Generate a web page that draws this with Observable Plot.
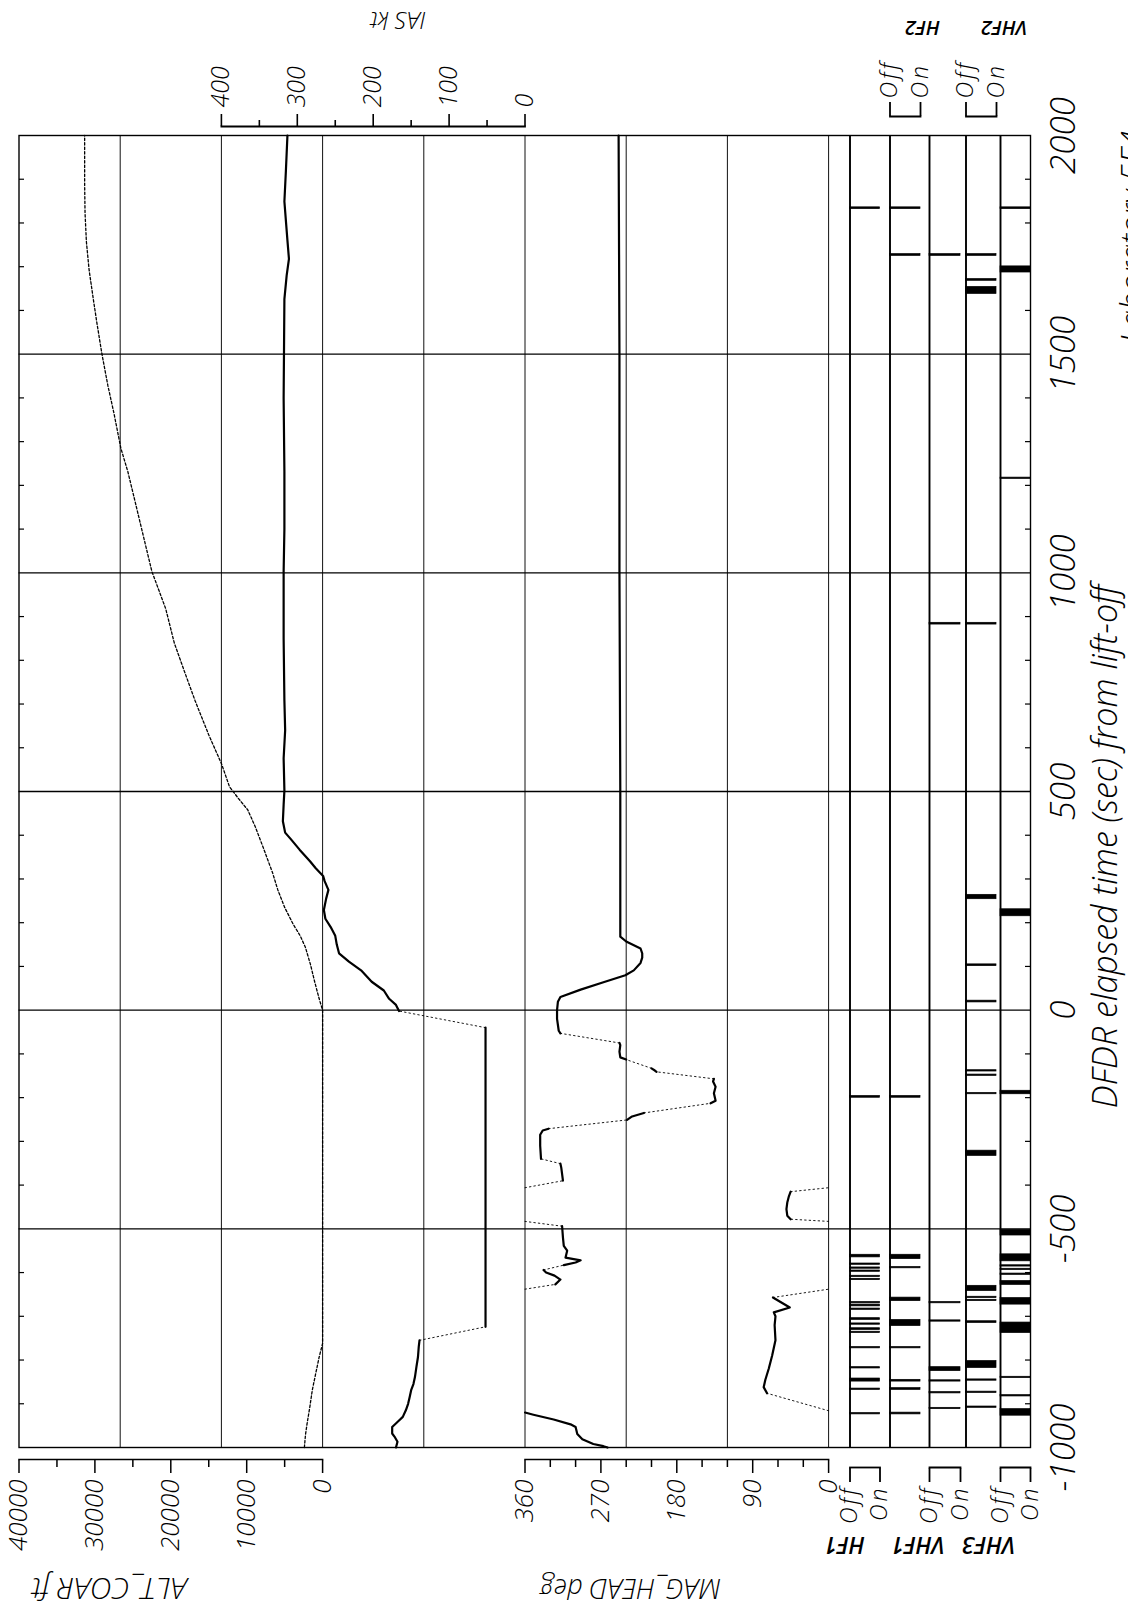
<!DOCTYPE html>
<html><head><meta charset="utf-8">
<script src="https://cdn.jsdelivr.net/npm/d3@7"></script>
<script src="https://cdn.jsdelivr.net/npm/@observablehq/plot@0.6"></script>
<style>
html,body{margin:0;padding:0;background:#fff;width:1128px;height:1611px;overflow:hidden}
#page{position:absolute;left:0;top:0;width:1611px;height:1128px;transform-origin:0 0;transform:translateY(1611px) rotate(-90deg);}
#page svg{position:absolute;left:0;background:transparent !important;}
</style></head><body><div id="page"></div>
<script>
// ---------------- data ----------------
const timeDomain = [-1000, 2000];
const timeTicks = [-1000, -500, 0, 500, 1000, 1500, 2000];
const timeGrid = [-500, 0, 500, 1000, 1500];
const minorTimeTicks = [-900,-800,-700,-600,-400,-300,-200,-100,100,200,300,400,600,700,800,900,1100,1200,1300,1400,1600,1700,1800,1900];
const gridRows = [1, 2, 3, 4, 5, 6, 7, 8];

const altTicks = [0, 10000, 20000, 30000, 40000];
const altMinor = [5000, 15000, 25000, 35000];
const iasTicks = [0, 100, 200, 300, 400];
const iasMinor = [50, 150, 250, 350];
const magTicks = [0, 90, 180, 270, 360];
const magMinor = [30, 60, 120, 150, 210, 240, 300, 330];

// ALT_COAR ft (time s, ft)
const altSeries = [[-1000,2400],[-970,2250],[-945,2040],[-907,1680],[-869,1360],[-831,910],[-793,450],[-762,0],[0,0],[26,450],[65,1045],[104,1590],[144,2270],[170,2950],[196,3860],[235,5000],[275,5900],[314,6590],[367,7720],[419,8860],[458,9860],[485,11130],[511,12270],[563,13310],[629,14990],[708,16810],[773,18170],[839,19530],[918,20670],[1003,22490],[1101,23850],[1167,24760],[1232,25670],[1285,26580],[1364,27480],[1429,28300],[1501,29080],[1574,29760],[1626,30210],[1692,30760],[1757,31120],[1823,31300],[1888,31350],[2000,31350]];

// IAS kt, solid runs (dotted joins between consecutive runs)
const iasRuns = [
  [[-1000,170],[-987,168],[-975,172],[-968,175],[-953,175],[-940,167],[-930,161],[-915,157],[-900,154],[-885,152],[-869,150],[-855,147],[-839,145],[-815,143],[-793,141],[-770,140],[-755,139]],
  [[-724,52],[-40,52]],
  [[-2,166],[12,170],[26,179],[45,186],[65,202],[91,216],[111,232],[130,245],[150,248],[170,250],[190,256],[209,263],[229,265],[255,262],[275,259],[295,264],[307,266],[325,276],[340,283],[367,297],[390,308],[406,316],[432,319],[470,318],[502,317],[576,318],[640,316],[708,317],[850,318],[1003,318],[1100,317],[1232,317],[1400,318],[1626,317],[1680,314],[1718,311],[1760,313],[1849,317],[1920,315],[2000,313]]
];

// MAG_HEAD deg, solid runs and dotted jumps
const magSolid = [
  [[-1000,262],[-997,267],[-992,279],[-981,292],[-969,298],[-953,300],[-947,306],[-936,326],[-925,350],[-920,360]],
  [[-876,73],[-862,77],[-845,75],[-820,71],[-790,67],[-755,63],[-720,64],[-700,63],[-691,65],[-680,46],[-657,66]],
  [[-627,324],[-616,318],[-607,325],[-600,335],[-594,338]],
  [[-583,314],[-577,300],[-572,294],[-566,312],[-550,310],[-539,314],[-520,315],[-494,316]],
  [[-478,45],[-470,49],[-455,50],[-440,49],[-425,47],[-415,45]],
  [[-390,315],[-375,316],[-360,317],[-351,318]],
  [[-340,341],[-310,342],[-285,342],[-275,339],[-271,332]],
  [[-251,239],[-243,233],[-235,219]],
  [[-213,140],[-207,134],[-190,136],[-175,134],[-163,137],[-157,136]],
  [[-141,204],[-138,206],[-133,210]],
  [[-113,240],[-108,247],[-95,248],[-80,247],[-75,248]],
  [[-53,318],[-47,320],[-20,322],[0,322],[19,321],[30,318],[47,294],[64,267],[80,241],[91,231],[108,223],[120,221],[130,221],[141,223],[157,240],[168,247],[250,247],[500,247],[1000,248],[1500,248],[2000,249]]
];
const magDotted = [
  [[-916,0],[-876,73]],
  [[-657,66],[-638,0]],
  [[-638,360],[-627,324]],
  [[-594,338],[-583,314]],
  [[-494,316],[-483,360]],
  [[-483,0],[-478,45]],
  [[-415,45],[-406,0]],
  [[-406,360],[-390,315]],
  [[-351,318],[-340,341]],
  [[-271,332],[-251,239]],
  [[-235,219],[-213,140]],
  [[-157,136],[-141,204]],
  [[-133,210],[-113,240]],
  [[-75,248],[-53,318]]
];

// discrete channels: pulses [start s, duration s] at "On"
const bandNames = ["HF1", "HF2", "VHF1", "VHF2", "VHF3"];
const bandStates = ["Off", "On"];
const hf1Pulses = [[-922,3],[-866,3],[-847,7],[-817,3],[-771,3],[-736,3],[-729,4],[-717,3],[-706,4],[-683,3],[-675,4],[-668,3],[-615,3],[-608,3],[-596,3],[-589,3],[-580,3],[-563,6],[-198,4],[1834,4]];
const hf2Pulses = [[-922,4],[-866,4],[-847,4],[-771,3],[-720,14],[-663,8],[-588,3],[-567,10],[-198,4],[1727,4],[1834,4]];
const vhf1Pulses = [[-910,3],[-874,3],[-847,3],[-823,9],[-710,3],[-668,3],[884,4],[1727,4]];
const vhf2Pulses = [[-907,3],[-873,3],[-845,3],[-816,16],[-713,4],[-663,3],[-656,3],[-640,12],[-331,12],[-190,3],[-148,3],[-138,3],[20,4],[103,4],[256,10],[884,4],[1640,16],[1670,4],[1727,4]];
const vhf3Pulses = [[-925,15],[-881,3],[-839,3],[-736,24],[-671,15],[-626,9],[-603,3],[-592,3],[-584,3],[-572,16],[-513,13],[-190,8],[217,16],[1217,3],[1689,14],[1834,4]];
const bandPulses = [hf1Pulses, hf2Pulses, vhf1Pulses, vhf2Pulses, vhf3Pulses];

const titleText = "DFDR elapsed time (sec) from lift-off";
const labText = "Laboratory 5F4";

// ---------------- layout (landscape, later rotated) ----------------
const W = 1611, H = 1128;
const X0 = 163, X1 = 1475;
const TOP = 18.5, CELL = 101.2, BOTTOM = 1030;
const AXIS_L = 151, BRACKET_L = 143, AXIS_R = 1484, BRACKET_R = 1494;
const bandOff = [849.5, 889.5, 929, 965.5, 1000];
const bandOn  = [879.5, 920, 960, 996, 1030];
const bandSide = ["left", "right", "left", "right", "left"];
const STYLE = "background:transparent;font-family:'Open Sans','DejaVu Sans',sans-serif;font-style:italic;font-weight:300;overflow:visible;";
const xs = {domain: timeDomain, range: [X0, X1]};

const page = document.getElementById("page");
function add(svg, top) { svg.style.top = (top || 0) + "px"; page.appendChild(svg); return svg; }
function spacing(svg, label, px) { d3.select(svg).selectAll(`g[aria-label="${label}"] text`).attr("letter-spacing", px); }
const flat = (runs) => runs.flatMap((r, i) => r.map(p => ({t: p[0], v: p[1], run: i})));
const joins = (runs) => runs.slice(1).flatMap((r, i) => [
  {t: runs[i][runs[i].length - 1][0], v: runs[i][runs[i].length - 1][1], seg: i},
  {t: r[0][0], v: r[0][1], seg: i}]);
const dots = (segs) => segs.flatMap((s, i) => s.map(p => ({t: p[0], v: p[1], seg: i})));

// grid, frame, time axis, title
add(Plot.plot({
  width: W, height: H, style: STYLE,
  marginLeft: X0, marginRight: W - X1, marginTop: TOP, marginBottom: H - BOTTOM,
  x: xs,
  y: {domain: [0, 8], range: [TOP, TOP + 8 * CELL], axis: null},
  marks: [
    Plot.ruleY(gridRows, {stroke: "#111", strokeWidth: 1}),
    Plot.ruleX(timeGrid, {stroke: "#000", strokeWidth: 1.4}),
    Plot.frame({stroke: "#000", strokeWidth: 1.4}),
    Plot.axisX({anchor: "bottom", ticks: timeTicks, tickSize: 0, tickPadding: 20, tickFormat: d => String(d), fontSize: 35, label: null}),
    Plot.text([titleText], {frameAnchor: "bottom", dx: -55, dy: 86, fontSize: 34}),
    Plot.text([labText], {frameAnchor: "bottom-right", textAnchor: "start", dx: -208, dy: 112, fontSize: 32})
  ]
}));

// minor time ticks on both long borders
for (const top of [TOP, BOTTOM - 5]) {
  add(Plot.plot({
    width: W, height: 5, style: STYLE, marginLeft: X0, marginRight: W - X1, marginTop: 0, marginBottom: 0,
    x: {...xs, axis: null},
    marks: [Plot.tickX(minorTimeTicks, {stroke: "#000", strokeWidth: 1.2})]
  }), top);
}

// ALT_COAR
add(Plot.plot({
  width: W, height: H, style: STYLE,
  marginLeft: AXIS_L, marginRight: W - X1, marginTop: TOP, marginBottom: H - (TOP + 3 * CELL),
  x: {...xs, axis: null},
  y: {domain: [0, 40000]},
  marks: [
    Plot.frame({anchor: "left", strokeWidth: 1.6}),
    Plot.axisY({anchor: "left", ticks: altMinor, tickSize: 7, tickFormat: () => "", strokeWidth: 1.5, label: null}),
    Plot.axisY({anchor: "left", ticks: altTicks, tickSize: 13, tickPadding: 7, tickFormat: d => String(d), strokeWidth: 1.5, fontSize: 26, label: null}),
    Plot.line(altSeries, {x: d => d[0], y: d => d[1], stroke: "#000", strokeWidth: 1.3, strokeDasharray: "2.5,2"}),
    Plot.text(["ALT_COAR ft"], {frameAnchor: "top-left", rotate: -90, textAnchor: "end", dx: 11 - AXIS_L, dy: 12.5, fontSize: 30})
  ]
}));

// IAS
const iasSvg = add(Plot.plot({
  width: W, height: H, style: STYLE,
  marginLeft: X0, marginRight: W - AXIS_R, marginTop: TOP + 2 * CELL, marginBottom: H - (TOP + 5 * CELL),
  x: {...xs, axis: null},
  y: {domain: [0, 400]},
  marks: [
    Plot.frame({anchor: "right", strokeWidth: 1.8}),
    Plot.axisY({anchor: "right", ticks: iasMinor, tickSize: 6, tickFormat: () => "", strokeWidth: 1.6, label: null}),
    Plot.axisY({anchor: "right", ticks: iasTicks, tickSize: 12, tickPadding: 7, tickFormat: d => String(d), strokeWidth: 1.6, fontSize: 25, label: null}),
    Plot.line(joins(iasRuns), {x: "t", y: "v", z: "seg", stroke: "#000", strokeWidth: 0.9, strokeDasharray: "1.5,3"}),
    Plot.line(flat(iasRuns), {x: "t", y: "v", z: "run", stroke: "#000", strokeWidth: 2.2}),
    Plot.text(["IAS kt"], {frameAnchor: "right", rotate: -90, dx: 107, dy: -3, fontSize: 24, ariaLabel: "wide"})
  ]
}));
spacing(iasSvg, "wide", 6);

// MAG_HEAD
add(Plot.plot({
  width: W, height: H, style: STYLE,
  marginLeft: AXIS_L, marginRight: W - X1, marginTop: TOP + 5 * CELL, marginBottom: H - (TOP + 8 * CELL),
  x: {...xs, axis: null},
  y: {domain: [0, 360]},
  marks: [
    Plot.frame({anchor: "left", strokeWidth: 1.6}),
    Plot.axisY({anchor: "left", ticks: magMinor, tickSize: 7, tickFormat: () => "", strokeWidth: 1.5, label: null}),
    Plot.axisY({anchor: "left", ticks: magTicks, tickSize: 13, tickPadding: 7, tickFormat: d => String(d), strokeWidth: 1.5, fontSize: 26, label: null}),
    Plot.line(dots(magDotted), {x: "t", y: "v", z: "seg", stroke: "#000", strokeWidth: 0.9, strokeDasharray: "1.5,3"}),
    Plot.line(flat(magSolid), {x: "t", y: "v", z: "run", stroke: "#000", strokeWidth: 2.2}),
    Plot.text(["MAG_HEAD deg"], {frameAnchor: "top-left", rotate: -90, textAnchor: "end", dx: 12 - AXIS_L, dy: 15, fontSize: 27})
  ]
}));

// discrete bands
bandNames.forEach((name, i) => {
  const side = bandSide[i];
  const svg = add(Plot.plot({
    width: W, height: H, style: STYLE,
    marginLeft: side === "left" ? BRACKET_L : X0,
    marginRight: side === "right" ? W - BRACKET_R : W - X1,
    marginTop: bandOff[i], marginBottom: H - bandOn[i],
    x: {...xs, axis: null},
    y: {domain: [0, 1], reverse: true},
    marks: [
      Plot.ruleY([0], {x1: timeDomain[0], x2: timeDomain[1], stroke: "#000", strokeWidth: 1.9}),
      Plot.rect(bandPulses[i], {x1: d => d[0], x2: d => d[0] + d[1], y1: 0, y2: 1, fill: "#000", stroke: "#000", strokeWidth: 0.7}),
      Plot.frame({anchor: side, strokeWidth: 1.8}),
      Plot.axisY({anchor: side, ticks: [0, 1], tickFormat: d => bandStates[d], tickSize: 14, tickPadding: 4, strokeWidth: 1.8, fontSize: 23, label: null}),
      Plot.text([name], {frameAnchor: side, rotate: -90, dx: side === "left" ? 66 - BRACKET_L : 1583 - BRACKET_R, fontSize: side === "left" ? 23 : 20, fontWeight: 600, ariaLabel: "band"})
    ]
  }));
  spacing(svg, "band", side === "left" ? 1 : 3);
  d3.select(svg).selectAll("text").filter(function() { return this.textContent === "Off" || this.textContent === "On"; }).attr("letter-spacing", 3);
});
</script></body></html>
